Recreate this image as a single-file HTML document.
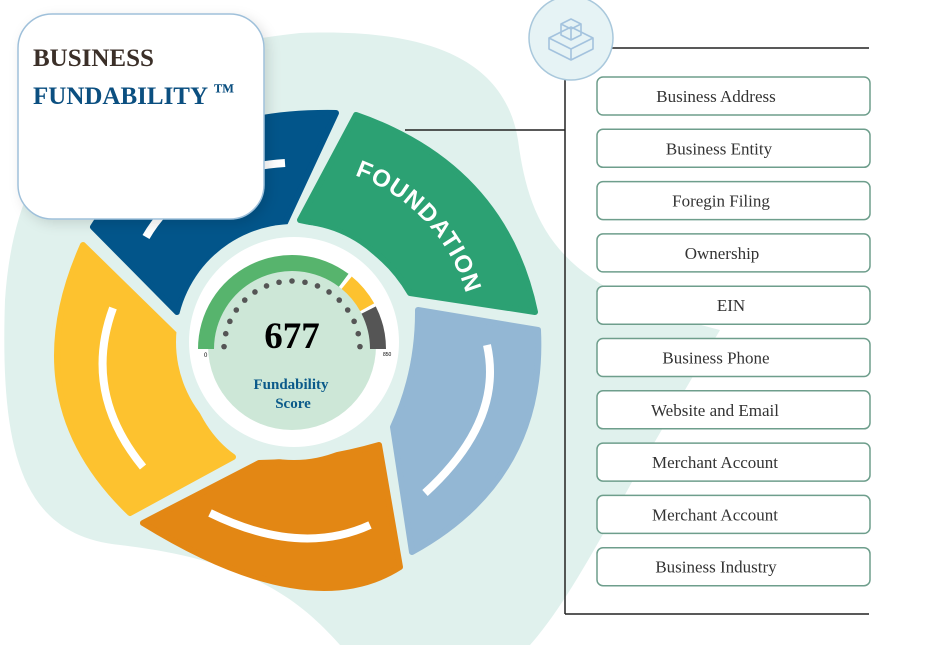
<!DOCTYPE html>
<html><head><meta charset="utf-8"><style>
html,body{margin:0;padding:0;background:#fff;width:933px;height:645px;overflow:hidden}
svg{display:block}
</style></head><body>
<svg id="s" width="933" height="645" viewBox="0 0 933 645" xmlns="http://www.w3.org/2000/svg">
<defs>
<filter id="sh" x="-20%" y="-20%" width="140%" height="140%"><feDropShadow dx="4" dy="4" stdDeviation="6" flood-color="#000" flood-opacity="0.12"/></filter>
</defs>
<path d="M300,33 C430,28 505,60 518,140 C530,230 560,290 720,330 L650,450 C610,520 570,600 530,645 L340,645 C300,600 250,560 120,545 C20,535 0,450 5,300 C15,150 90,55 300,33 Z" fill="#e0f1ed"/>
<g id="segs"></g>
<circle cx="294" cy="342" r="118" fill="#e0f1ed"/>
<circle cx="294" cy="342" r="105" fill="#fff"/>
<g id="gauge"></g>
<text x="292" y="348" text-anchor="middle" font-family="Liberation Serif,serif" font-weight="bold" font-size="37" fill="#000">677</text>
<text x="291" y="389" text-anchor="middle" font-family="Liberation Serif,serif" font-weight="bold" font-size="15" fill="#0b5a8a">Fundability</text>
<text x="293" y="408" text-anchor="middle" font-family="Liberation Serif,serif" font-weight="bold" font-size="15" fill="#0b5a8a">Score</text>
<text x="204" y="357" font-family="Liberation Sans,sans-serif" font-size="6" fill="#000">0</text>
<text x="383" y="356" font-family="Liberation Sans,sans-serif" font-size="5" fill="#000">850</text>
<path id="tp" d="" fill="none"/>
<text font-family="Liberation Sans,sans-serif" font-weight="bold" font-size="24" fill="#fff"><textPath href="#tp" startOffset="2" textLength="168" lengthAdjust="spacing">FOUNDATION</textPath></text>
<rect x="18" y="14" width="246" height="205" rx="34" fill="#fff" stroke="#9fc0da" stroke-width="1.5" filter="url(#sh)"/>
<text x="33" y="66" font-family="Liberation Serif,serif" font-weight="bold" font-size="25" fill="#3b2f28">BUSINESS</text>
<text x="33" y="104" font-family="Liberation Serif,serif" font-weight="bold" font-size="25" fill="#0b4f80">FUNDABILITY <tspan font-size="21" dy="-6">™</tspan></text>
<line x1="405" y1="130" x2="565" y2="130" stroke="#222" stroke-width="1.5"/>
<line x1="565" y1="75" x2="565" y2="614" stroke="#222" stroke-width="1.5"/>
<line x1="565" y1="614" x2="869" y2="614" stroke="#222" stroke-width="1.5"/>
<line x1="612" y1="48" x2="869" y2="48" stroke="#222" stroke-width="1.5"/>
<circle cx="571" cy="38" r="42" fill="#e6f3f5" stroke="#a9c8dc" stroke-width="1.5"/>
<g fill="none" stroke="#a4c3de" stroke-width="1.6" stroke-linejoin="round">
<path d="M549,38 L571,27 L593,38 L593,49 L571,60 L549,49 Z M549,38 L571,49 L593,38 M571,49 L571,60"/>
<path d="M561,24 L571,19 L581,24 L581,35 L571,40 L561,35 Z M561,24 L571,29 L581,24 M571,29 L571,40"/>
</g>
<g id="boxes" font-family="Liberation Serif,serif" font-size="17" fill="#333"></g>
</svg>
<script>
const NS="http://www.w3.org/2000/svg";
function el(tag,at,par){const e=document.createElementNS(NS,tag);for(const k in at)e.setAttribute(k,at[k]);par.appendChild(e);return e;}
function q(A,M,B){const C=[2*M[0]-(A[0]+B[0])/2,2*M[1]-(A[1]+B[1])/2];return `Q${C} ${B}`;}
const g=document.getElementById('segs');
const segs=[
 ["#02558a",[93,227],[190,140],[336,113],[283,227],[215,255],[177,312]],
 ["#2ca173",[356,115],[475,190],[535,312],[410,293],[365,245],[300,220]],
 ["#93b7d4",[538,330],[510,460],[412,552],[393,427],[412,370],[418,310]],
 ["#e38714",[400,567],[290,585],[143,523],[259,463],[320,458],[379,445]],
 ["#fdc22f",[130,513],[60,390],[83,245],[175,335],[195,410],[233,457]]
];
segs.forEach(s=>{
 const d=`M${s[1]} ${q(s[1],s[2],s[3])} L${s[4]} ${q(s[4],s[5],s[6])} Z`;
 el('path',{d:d,fill:s[0],stroke:s[0],'stroke-width':6,'stroke-linejoin':'round'},g);
});
[[[146,237],[200,185],[285,163]],[[113,308],[105,390],[143,467]],[[487,345],[480,420],[425,493]],[[210,513],[295,538],[370,525]]]
 .forEach(p=>el('path',{d:`M${p[0]} ${q(p[0],p[1],p[2])}`,fill:'none',stroke:'#fff','stroke-width':8},g));
const tcx=295,tcy=343,tr=178;
function Pt(r,a){a=a*Math.PI/180;return [tcx+r*Math.sin(a),tcy-r*Math.cos(a)];}
document.getElementById('tp').setAttribute('d',`M${Pt(tr,19)} A${tr},${tr} 0 0 1 ${Pt(tr,85)}`);
const gg=document.getElementById('gauge');const gx=292,gy=349;
function P2(r,a){a=a*Math.PI/180;return [gx+r*Math.sin(a),gy-r*Math.cos(a)];}
function gsec(r1,r2,a1,a2){const A=P2(r2,a1),B=P2(r2,a2),C=P2(r1,a2),D=P2(r1,a1);
 const l=(a2-a1)>180?1:0;return `M${A} A${r2},${r2} 0 ${l} 1 ${B} L${C} A${r1},${r1} 0 ${l} 0 ${D} Z`;}
el('circle',{cx:gx,cy:gy-3,r:84,fill:'#cde7d7'},gg);
el('path',{d:gsec(78,94,-90,37),fill:'#57b46d'},gg);
el('path',{d:gsec(78,94,39,61),fill:'#fdc22f'},gg);
el('path',{d:gsec(78,94,63,90),fill:'#555'},gg);
el('path',{d:gsec(78,95,37,39.5),fill:'#fff'},gg);
el('path',{d:gsec(78,95,61,63),fill:'#fff'},gg);
for(let i=0;i<=16;i++){const a=-88+i*11;const p=P2(68,a);el('circle',{cx:p[0],cy:p[1],r:2.8,fill:'#555'},gg);}
const labels=["Business Address","Business Entity","Foregin Filing","Ownership","EIN","Business Phone","Website and Email","Merchant Account","Merchant Account","Business Industry"];
const bx=document.getElementById('boxes');
const tx=[716,719,721,722,731,716,715,715,715,716];
labels.forEach((t,i)=>{const y=77+i*52.3;
 el('rect',{x:597,y:y,width:273,height:38,rx:6,fill:'#fff',stroke:'#6e9e8c','stroke-width':1.5},bx);
 const e=el('text',{x:tx[i],y:y+25,'text-anchor':'middle'},bx);e.textContent=t;});
</script>
</body></html>
